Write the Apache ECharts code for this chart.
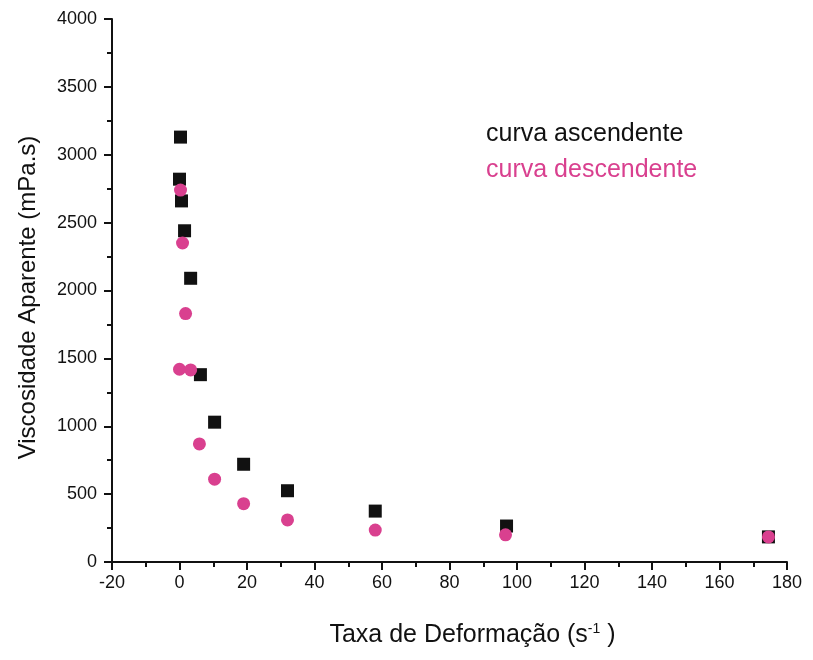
<!DOCTYPE html>
<html>
<head>
<meta charset="utf-8">
<script src="https://cdn.jsdelivr.net/npm/echarts@6/dist/echarts.min.js"></script>
<style>
  html, body { margin: 0; padding: 0; background: #fff; }
  #main { width: 813px; height: 660px; }
</style>
</head>
<body>
<div id="main"></div>
<script>
// taxa de deformação (s-1) / viscosidade (mPa.s)
var ascX = [0.3, 0.0, 0.6, 1.5, 3.3, 6.2, 10.4, 19, 32, 58, 96.9, 174.5];
var ascY = [3130, 2820, 2660, 2440, 2090, 1380, 1030, 720, 525, 375, 265, 185];
var descX = [0.3, 0.9, 1.8, 0.0, 3.3, 5.9, 10.4, 19, 32, 58, 96.6, 174.5];
var descY = [2740, 2350, 1830, 1420, 1415, 870, 610, 430, 310, 235, 200, 185];

function pairs(xs, ys) {
  var out = [];
  for (var i = 0; i < xs.length; i++) out.push([xs[i], ys[i]]);
  return out;
}

var myChart = echarts.init(document.getElementById('main'));
var font = 'Liberation Sans, Arial, sans-serif';

var option = {
  backgroundColor: '#fff',
  textStyle: { fontFamily: font },
  grid: { left: 112, right: 26, top: 19, bottom: 98 },
  legend: {
    left: 476,
    top: 117,
    orient: 'vertical',
    icon: 'none',
    itemWidth: 0,
    itemGap: 11,
    data: [
      { name: 'curva ascendente', textStyle: { color: '#111' } },
      { name: 'curva descendente', textStyle: { color: '#d9408f' } }
    ],
    textStyle: { fontSize: 25, fontFamily: font }
  },
  xAxis: {
    type: 'value',
    min: -20,
    max: 180,
    interval: 20,
    name: 'Taxa de Deformação (s{sup|-1} )',
    nameLocation: 'middle',
    nameGap: 60,
    nameTextStyle: {
      fontSize: 25, color: '#111', fontFamily: font, padding: [0, 0, 0, 46],
      rich: { sup: { fontSize: 14, verticalAlign: 'top', padding: [0, 0, 13, 0], color: '#111' } }
    },
    axisLine: { onZero: false, lineStyle: { color: '#111', width: 2 } },
    axisTick: { length: 8, lineStyle: { color: '#111', width: 2 } },
    minorTick: { show: true, splitNumber: 2, length: 5, lineStyle: { color: '#111', width: 2 } },
    axisLabel: { fontSize: 18, color: '#111', margin: 12 },
    splitLine: { show: false }
  },
  yAxis: {
    type: 'value',
    min: 0,
    max: 4000,
    interval: 500,
    name: 'Viscosidade Aparente (mPa.s)',
    nameLocation: 'middle',
    nameGap: 72,
    nameTextStyle: { fontSize: 24, color: '#111', fontFamily: font, padding: [0, 14, 0, 0] },
    axisLine: { show: true, onZero: false, lineStyle: { color: '#111', width: 2 } },
    axisTick: { show: true, length: 8, lineStyle: { color: '#111', width: 2 } },
    minorTick: { show: true, splitNumber: 2, length: 5, lineStyle: { color: '#111', width: 2 } },
    axisLabel: {
      fontSize: 18, color: '#111', margin: 15,
      formatter: function (v) { return String(v); }
    },
    splitLine: { show: false }
  },
  series: [
    {
      name: 'curva ascendente',
      type: 'scatter',
      symbol: 'rect',
      symbolSize: 13,
      itemStyle: { color: '#111', opacity: 1 },
      data: pairs(ascX, ascY)
    },
    {
      name: 'curva descendente',
      type: 'scatter',
      symbol: 'circle',
      symbolSize: 13,
      itemStyle: { color: '#d9408f', opacity: 1 },
      data: pairs(descX, descY)
    }
  ]
};

myChart.setOption(option);
</script>
</body>
</html>
